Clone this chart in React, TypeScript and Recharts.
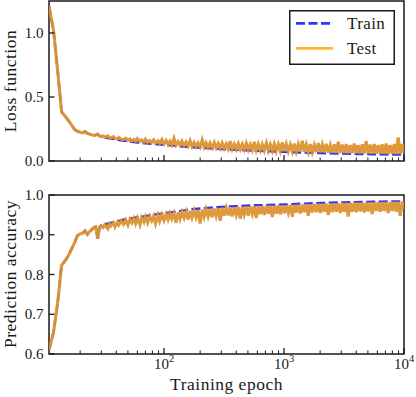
import React from 'react';
import { LineChart, Line, XAxis, YAxis, ReferenceArea, Legend } from 'recharts';

// ---------- data ----------
const trainEpochs = [
  11, 12, 13, 14, 15, 16, 17, 18, 19, 20, 21, 22, 23, 24, 25, 26, 27, 28, 29, 30,
  32, 35, 40, 45, 50, 60, 70, 80, 100, 130, 170, 220, 300, 400, 550, 750, 1000, 1400, 2000, 2800,
  4000, 5500, 7500, 10000,
];
const trainLoss = [
  1.21, 1.02, 0.7, 0.385, 0.35, 0.315, 0.28, 0.245, 0.232, 0.225,
  0.22, 0.23, 0.215, 0.21, 0.205, 0.2, 0.203, 0.21, 0.195, 0.19,
  0.185, 0.178, 0.168, 0.16, 0.153, 0.145, 0.138, 0.133, 0.126, 0.117,
  0.108, 0.101, 0.093, 0.087, 0.081, 0.076, 0.071, 0.066, 0.062, 0.058,
  0.055, 0.053, 0.051, 0.05,
];
const trainAcc = [
  0.61, 0.655, 0.73, 0.823, 0.835, 0.848, 0.865, 0.88, 0.898, 0.902,
  0.904, 0.91, 0.901, 0.908, 0.913, 0.918, 0.92, 0.89, 0.918, 0.924,
  0.926, 0.929, 0.933, 0.937, 0.94, 0.944, 0.947, 0.95, 0.954, 0.959,
  0.964, 0.967, 0.97, 0.972, 0.974, 0.975, 0.976, 0.978, 0.98, 0.981,
  0.982, 0.983, 0.984, 0.984,
];

const testEpochs = [
  11, 12, 13, 14, 15, 16, 17, 18, 19, 20, 21, 22, 23, 24, 25, 26, 27, 28, 29,
  30, 31, 32, 34, 35, 36, 38, 39, 41, 42, 44, 46, 48, 50, 52, 54, 56, 58, 60, 63,
  65, 68, 70, 73, 76, 79, 82, 85, 89, 92, 96, 100,
  104, 108, 112, 116, 121, 126, 131, 136, 141, 147, 153, 159, 165, 171, 178, 185, 192, 200, 208, 216,
  224, 233, 242, 252, 262, 272, 283, 294, 305, 317, 330, 343, 356, 370, 385, 400, 416, 432, 449, 466,
  485, 504, 523, 544, 565, 587, 610, 634, 659, 685, 712, 740, 769, 799, 830, 862, 896, 931, 967, 1005,
  1044, 1085, 1128, 1172, 1218, 1265, 1315, 1366, 1420, 1475, 1533, 1593, 1655, 1720, 1787, 1857, 1930, 2005, 2083, 2165,
  2249, 2337, 2429, 2524, 2622, 2725, 2831, 2942, 3057, 3176, 3300, 3429, 3563, 3703, 3847, 3998, 4154, 4316, 4485, 4660,
  4842, 5031, 5228, 5432, 5645, 5865, 6094, 6333, 6580, 6837, 7105, 7382, 7671, 7971, 8283, 8606, 8943, 9292, 9655, 10000,
];
const testLoss = [
  1.21, 1.02, 0.7, 0.385, 0.35, 0.315, 0.28, 0.245, 0.232, 0.225, 0.22, 0.23, 0.215, 0.21, 0.205, 0.2, 0.203, 0.21, 0.195,
  0.19, 0.195, 0.186, 0.196, 0.182, 0.18, 0.19, 0.176, 0.174, 0.183,
  0.17, 0.168, 0.178, 0.16, 0.172, 0.158, 0.168, 0.155, 0.175, 0.152,
  0.165, 0.148, 0.17, 0.147, 0.16, 0.143, 0.165, 0.142, 0.158, 0.138,
  0.168, 0.133,
  0.16, 0.129, 0.155, 0.127, 0.178, 0.125, 0.15, 0.123, 0.155, 0.12,
  0.148, 0.118, 0.158, 0.115, 0.145, 0.113, 0.142, 0.11, 0.165, 0.108,
  0.142, 0.106, 0.14, 0.104, 0.145, 0.102, 0.136, 0.1, 0.14, 0.098,
  0.134, 0.096, 0.155, 0.094, 0.132, 0.093, 0.136, 0.091, 0.13, 0.09,
  0.138, 0.088, 0.128, 0.087, 0.15, 0.085, 0.132, 0.084, 0.13, 0.083,
  0.14, 0.081, 0.128, 0.08, 0.134, 0.079, 0.13, 0.078, 0.145, 0.077,
  0.132, 0.076, 0.128, 0.075, 0.136, 0.074, 0.13, 0.073, 0.158, 0.072,
  0.128, 0.071, 0.132, 0.07, 0.125, 0.069, 0.14, 0.068, 0.128, 0.067,
  0.133, 0.066, 0.124, 0.065, 0.13, 0.064, 0.15, 0.063, 0.128, 0.063,
  0.132, 0.062, 0.125, 0.061, 0.136, 0.061, 0.124, 0.06, 0.13, 0.059,
  0.155, 0.059, 0.128, 0.058, 0.132, 0.057, 0.124, 0.057, 0.13, 0.056,
  0.136, 0.056, 0.125, 0.055, 0.132, 0.055, 0.185, 0.055, 0.132, 0.065,
];
const testAcc = [
  0.61, 0.655, 0.73, 0.823, 0.835, 0.848, 0.865, 0.88, 0.898, 0.902, 0.904, 0.91, 0.901, 0.908, 0.913, 0.918, 0.92, 0.89, 0.918,
  0.922, 0.918, 0.925, 0.915, 0.927, 0.922, 0.93, 0.92, 0.932, 0.925,
  0.935, 0.926, 0.937, 0.924, 0.939, 0.93, 0.941, 0.928, 0.942, 0.925,
  0.943, 0.932, 0.945, 0.93, 0.946, 0.935, 0.947, 0.928, 0.949, 0.934,
  0.951, 0.936,
  0.952, 0.938, 0.953, 0.94, 0.954, 0.93, 0.956, 0.94, 0.957, 0.942,
  0.958, 0.938, 0.96, 0.943, 0.961, 0.944, 0.962, 0.928, 0.963, 0.945,
  0.964, 0.946, 0.965, 0.944, 0.966, 0.947, 0.967, 0.935, 0.968, 0.948,
  0.968, 0.949, 0.969, 0.946, 0.969, 0.95, 0.97, 0.94, 0.97, 0.951,
  0.971, 0.948, 0.971, 0.952, 0.972, 0.942, 0.972, 0.952, 0.972, 0.95,
  0.973, 0.953, 0.973, 0.945, 0.973, 0.953, 0.974, 0.951, 0.974, 0.954,
  0.974, 0.955, 0.975, 0.945, 0.975, 0.956, 0.976, 0.954, 0.976, 0.957,
  0.977, 0.948, 0.977, 0.956, 0.977, 0.957, 0.978, 0.955, 0.978, 0.958,
  0.978, 0.95, 0.979, 0.957, 0.979, 0.958, 0.979, 0.955, 0.98, 0.958,
  0.98, 0.946, 0.98, 0.958, 0.981, 0.957, 0.981, 0.959, 0.981, 0.956,
  0.981, 0.959, 0.982, 0.952, 0.982, 0.96, 0.982, 0.958, 0.982, 0.96,
  0.982, 0.955, 0.982, 0.96, 0.983, 0.958, 0.983, 0.948, 0.983, 0.965,
];

const xMajorTicks = [100, 1000, 10000];
const xMinorTicks = [
  20, 30, 40, 50, 60, 70, 80, 90,
  200, 300, 400, 500, 600, 700, 800, 900,
  2000, 3000, 4000, 5000, 6000, 7000, 8000, 9000,
];
const lossTicks = [0, 0.5, 1.0];
const accTicks = [0.6, 0.7, 0.8, 0.9, 1.0];
const seriesNames = ['Train', 'Test'];
const axisTitles = { loss: 'Loss function', acc: 'Prediction accuracy', x: 'Training epoch' };
const xDomain = [11, 10000];
const lossDomain = [0, 1.25];
const accDomain = [0.6, 1.0];

// ---------- style ----------
const FONT = "'Liberation Serif', serif";
const INK = '#1a1a1a';
const BLUE = '#0000ff';
const ORANGE = '#ffa500';
const TEST_IN_PLOT = '#dc9432';

const toRows = (xs: number[], ys: number[]) => xs.map((e, i) => ({ epoch: e, value: ys[i] }));
const trainLossData = toRows(trainEpochs, trainLoss);
const testLossData = toRows(testEpochs, testLoss);
const trainAccData = toRows(trainEpochs, trainAcc);
const testAccData = toRows(testEpochs, testAcc);
const allXTicks = [...xMinorTicks, ...xMajorTicks].sort((a, b) => a - b);

const textStyle = { fontFamily: FONT } as React.CSSProperties;

function XTick(props: any) {
  const { x, y, payload, showLabel } = props;
  const v = payload.value;
  const major = xMajorTicks.includes(v);
  const len = major ? 6 : 3.5;
  const exp = String(Math.round(Math.log10(v)));
  return (
    <g>
      <line x1={x} x2={x} y1={y} y2={y - len} stroke={INK} strokeWidth={major ? 1.3 : 1} />
      {showLabel && major ? (
        <text x={x - 10} y={y + 14.5} textAnchor="start" style={textStyle} fontSize={15} fill={INK}>
          <tspan>10</tspan>
          <tspan dy={-6.5} fontSize={10.5}>
            {exp}
          </tspan>
        </text>
      ) : null}
    </g>
  );
}

function YTick(props: any) {
  const { x, y, payload } = props;
  return (
    <g>
      <line x1={x} x2={x + 5.5} y1={y} y2={y} stroke={INK} strokeWidth={1.3} />
      <text x={x - 5.5} y={y + 5} textAnchor="end" style={textStyle} fontSize={15} fill={INK}>
        {Number(payload.value).toFixed(1)}
      </text>
    </g>
  );
}

function LegendBox(props: any) {
  const items = ([...(props.payload || [])] as any[]).sort(
    (a, b) => seriesNames.indexOf(a.value) - seriesNames.indexOf(b.value)
  );
  return (
    <svg width={106} height={55} style={{ display: 'block' }}>
      <rect x={0.75} y={0.75} width={104.5} height={53.5} fill="#fff" stroke={INK} strokeWidth={1.5} />
      {items.map((it, i) => {
        const ly = 13.3 + i * 25;
        const dashed = it.value === seriesNames[0];
        return (
          <g key={it.value}>
            <line
              x1={7}
              x2={44}
              y1={ly}
              y2={ly}
              stroke={dashed ? BLUE : ORANGE}
              strokeOpacity={0.8}
              strokeWidth={2.8}
              strokeDasharray={dashed ? '9 3.5' : undefined}
            />
            <text x={58} y={ly + 6} style={textStyle} fontSize={17} letterSpacing={0.4} fill={INK}>
              {it.value}
            </text>
          </g>
        );
      })}
    </svg>
  );
}

function Panel(props: any) {
  const { height, top, domain, ticks, trainData, testData, showX, withLegend } = props;
  return (
    <LineChart width={416} height={height} margin={{ top, right: 12, bottom: 0, left: 0 }} style={{ overflow: 'visible' }}>
      <XAxis
        dataKey="epoch"
        type="number"
        scale="log"
        domain={xDomain}
        allowDataOverflow
        ticks={allXTicks}
        interval={0}
        tick={(p: any) => <XTick {...p} showLabel={showX} />}
        tickLine={false}
        axisLine={false}
        tickSize={0}
        tickMargin={0}
        height={showX ? 43 : 14}
      />
      <YAxis
        type="number"
        domain={domain}
        allowDataOverflow
        ticks={ticks}
        interval={0}
        tick={(p: any) => <YTick {...p} />}
        tickLine={false}
        axisLine={false}
        tickSize={0}
        tickMargin={0}
        width={49}
      />
      <Line
        data={trainData}
        dataKey="value"
        name={seriesNames[0]}
        stroke={BLUE}
        strokeOpacity={0.8}
        strokeWidth={2.4}
        strokeDasharray="9 3.5"
        dot={false}
        activeDot={false}
        isAnimationActive={false}
        type="linear"
      />
      <Line
        data={testData}
        dataKey="value"
        name={seriesNames[1]}
        stroke={TEST_IN_PLOT}
        strokeOpacity={0.95}
        strokeWidth={3.1}
        strokeLinejoin="miter"
        dot={false}
        activeDot={false}
        isAnimationActive={false}
        type="linear"
      />
      <ReferenceArea
        x1={xDomain[0]}
        x2={xDomain[1]}
        y1={domain[0]}
        y2={domain[1]}
        fill="none"
        fillOpacity={0}
        stroke={INK}
        strokeWidth={1.5}
        ifOverflow="visible"
      />
      {withLegend ? (
        <Legend
          layout="horizontal"
          verticalAlign="middle"
          align="center"
          content={(p: any) => <LegendBox {...p} />}
          wrapperStyle={{ left: 289, top: 10, width: 106, height: 55 }}
        />
      ) : null}
    </LineChart>
  );
}

export default function App() {
  return (
    <div style={{ position: 'relative', width: 416, height: 397, background: '#fff' }}>
      <style>{'html,body{margin:0;padding:0;overflow:hidden;background:#fff}'}</style>
      <div style={{ position: 'absolute', left: 0, top: 0 }}>
        <Panel
          height={175}
          top={1}
          domain={lossDomain}
          ticks={lossTicks}
          trainData={trainLossData}
          testData={testLossData}
          showX={false}
          withLegend={true}
        />
      </div>
      <div style={{ position: 'absolute', left: 0, top: 180 }}>
        <Panel
          height={217}
          top={15}
          domain={accDomain}
          ticks={accTicks}
          trainData={trainAccData}
          testData={testAccData}
          showX={true}
          withLegend={false}
        />
      </div>
      <svg
        width={416}
        height={397}
        style={{ position: 'absolute', left: 0, top: 0, pointerEvents: 'none' }}
      >
        <text
          x={15.5}
          y={81}
          transform="rotate(-90, 15.5, 81)"
          textAnchor="middle"
          style={textStyle}
          fontSize={17.5}
          letterSpacing={0.5}
          fill={INK}
        >
          {axisTitles.loss}
        </text>
        <text
          x={15.5}
          y={274}
          transform="rotate(-90, 15.5, 274)"
          textAnchor="middle"
          style={textStyle}
          fontSize={17.5}
          letterSpacing={0.5}
          fill={INK}
        >
          {axisTitles.acc}
        </text>
        <text x={226.5} y={390} textAnchor="middle" style={textStyle} fontSize={17.5} letterSpacing={0.5} fill={INK}>
          {axisTitles.x}
        </text>
      </svg>
    </div>
  );
}
